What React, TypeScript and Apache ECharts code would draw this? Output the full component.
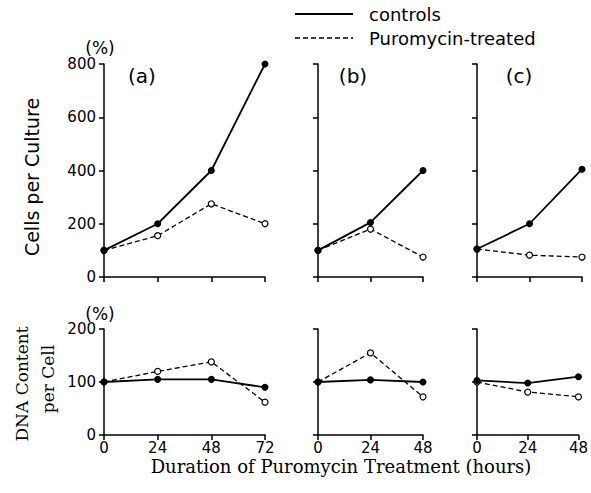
import React, { useEffect, useRef } from "react";
import * as echarts from "echarts";

const hoursA = [0, 24, 48, 72];
const hoursBC = [0, 24, 48];

const cellsCtrlA = [100, 200, 400, 800];
const cellsPuroA = [100, 155, 275, 200];
const cellsCtrlB = [100, 205, 400];
const cellsPuroB = [100, 180, 75];
const cellsCtrlC = [105, 200, 405];
const cellsPuroC = [105, 82, 75];

const dnaCtrlA = [100, 105, 105, 90];
const dnaPuroA = [100, 120, 138, 62];
const dnaCtrlB = [100, 104, 100];
const dnaPuroB = [100, 155, 72];
const dnaCtrlC = [103, 98, 110];
const dnaPuroC = [100, 81, 72];

const panelLabels = ["(a)", "(b)", "(c)"];
const seriesNames = ["controls", "Puromycin-treated"];
const cellsTicks = { min: 0, max: 800, interval: 200 };
const dnaTicks = { min: 0, max: 200, interval: 100 };

const FONT = "DejaVu Sans";
const SERIF = "DejaVu Serif";

export default function App() {
  const ref = useRef<HTMLDivElement>(null);
  useEffect(() => {
    if (!ref.current) return;
    const chart = echarts.init(ref.current, null, { renderer: "svg" });

    const colLeft = [104, 318, 477];
    const colWidth = [161, 105, 105];
    const rowTop = [64, 329];
    const rowHeight = [213, 106];

    const grids: any[] = [];
    const xAxes: any[] = [];
    const yAxes: any[] = [];
    const series: any[] = [];

    const pairs = (xs: number[], ys: number[]) => xs.map((x, i) => [x, ys[i]]);
    const data = [
      [
        [cellsCtrlA, cellsPuroA, hoursA],
        [cellsCtrlB, cellsPuroB, hoursBC],
        [cellsCtrlC, cellsPuroC, hoursBC],
      ],
      [
        [dnaCtrlA, dnaPuroA, hoursA],
        [dnaCtrlB, dnaPuroB, hoursBC],
        [dnaCtrlC, dnaPuroC, hoursBC],
      ],
    ];

    let idx = 0;
    for (let r = 0; r < 2; r++) {
      for (let c = 0; c < 3; c++) {
        grids.push({
          left: colLeft[c],
          top: rowTop[r],
          width: colWidth[c],
          height: rowHeight[r],
          containLabel: false,
        });
        const xs = data[r][c][2] as number[];
        xAxes.push({
          type: "value",
          gridIndex: idx,
          min: 0,
          max: xs[xs.length - 1],
          interval: 24,
          splitLine: { show: false },
          axisLine: { show: true, lineStyle: { color: "#000", width: 1.5 } },
          axisTick: { show: true, inside: false, length: 5, lineStyle: { color: "#000", width: 1.5 } },
          axisLabel: {
            show: r === 1,
            color: "#000",
            fontSize: 15,
            fontFamily: FONT,
            margin: 5,
          },
        });
        const t = r === 0 ? cellsTicks : dnaTicks;
        yAxes.push({
          type: "value",
          gridIndex: idx,
          min: t.min,
          max: t.max,
          interval: t.interval,
          splitLine: { show: false },
          axisLine: { show: true, lineStyle: { color: "#000", width: 1.5 } },
          axisTick: { show: true, inside: false, length: 5, lineStyle: { color: "#000", width: 1.5 } },
          axisLabel: {
            show: c === 0,
            color: "#000",
            fontSize: 15,
            fontFamily: FONT,
            margin: 8,
          },
        });
        const ctrl = data[r][c][0] as number[];
        const puro = data[r][c][1] as number[];
        series.push({
          type: "line",
          name: seriesNames[1],
          xAxisIndex: idx,
          yAxisIndex: idx,
          data: pairs(xs, puro),
          symbol: "circle",
          symbolSize: 6,
          lineStyle: { color: "#000", width: 1.3, type: [5, 3] },
          itemStyle: { color: "#fff", borderColor: "#000", borderWidth: 1.2 },
          z: 2,
        });
        series.push({
          type: "line",
          name: seriesNames[0],
          xAxisIndex: idx,
          yAxisIndex: idx,
          data: pairs(xs, ctrl),
          symbol: "circle",
          symbolSize: 7,
          lineStyle: { color: "#000", width: 1.8, type: "solid" },
          itemStyle: { color: "#000", borderColor: "#000", borderWidth: 0 },
          z: 3,
        });
        idx++;
      }
    }

    const labelPos = [
      [142, 76],
      [353, 76],
      [519, 76],
    ];

    const graphic: any[] = [
      { type: "line", shape: { x1: 295, y1: 14, x2: 353, y2: 14 }, style: { stroke: "#000", lineWidth: 1.8 } },
      { type: "line", shape: { x1: 295, y1: 38, x2: 353, y2: 38 }, style: { stroke: "#000", lineWidth: 1.3, lineDash: [5, 3] } },
      { type: "text", x: 369, y: 14, style: { text: seriesNames[0], font: `18px ${FONT}`, fill: "#000", textVerticalAlign: "middle", textAlign: "left" } },
      { type: "text", x: 369, y: 38, style: { text: seriesNames[1], font: `18px ${FONT}`, fill: "#000", textVerticalAlign: "middle", textAlign: "left" } },
      { type: "text", x: 100, y: 48, style: { text: "(%)", font: `17px ${FONT}`, fill: "#000", textAlign: "center", textVerticalAlign: "middle" } },
      { type: "text", x: 100, y: 314, style: { text: "(%)", font: `17px ${FONT}`, fill: "#000", textAlign: "center", textVerticalAlign: "middle" } },
      { type: "text", x: 32, y: 177, rotation: Math.PI / 2, style: { text: "Cells per Culture", font: `19px ${FONT}`, fill: "#000", textAlign: "center", textVerticalAlign: "middle" } },
      { type: "text", x: 22, y: 384, rotation: Math.PI / 2, style: { text: "DNA Content", font: `17px ${SERIF}`, fill: "#000", textAlign: "center", textVerticalAlign: "middle" } },
      { type: "text", x: 48, y: 379, rotation: Math.PI / 2, style: { text: "per Cell", font: `17px ${SERIF}`, fill: "#000", textAlign: "center", textVerticalAlign: "middle" } },
      { type: "text", x: 341, y: 466, style: { text: "Duration of Puromycin Treatment (hours)", font: `18px ${SERIF}`, fill: "#000", textAlign: "center", textVerticalAlign: "middle" } },
    ];
    panelLabels.forEach((t, i) => {
      graphic.push({ type: "text", x: labelPos[i][0], y: labelPos[i][1], style: { text: t, font: `20px ${FONT}`, fill: "#000", textAlign: "center", textVerticalAlign: "middle" } });
    });

    chart.setOption({
      animation: false,
      backgroundColor: "#fff",
      grid: grids,
      xAxis: xAxes,
      yAxis: yAxes,
      series,
      graphic,
    });
    return () => chart.dispose();
  }, []);

  return <div ref={ref} style={{ position: "absolute", left: 0, top: 0, width: 591, height: 493 }} />;
}
